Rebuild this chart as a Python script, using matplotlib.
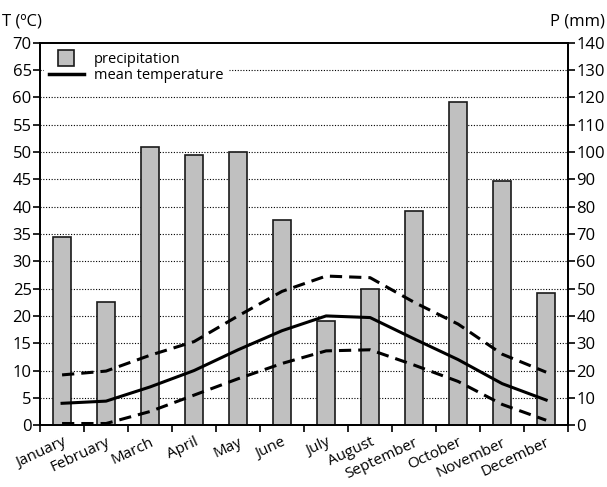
import numpy as np
import matplotlib.pyplot as plt
from matplotlib.lines import Line2D

plt.rcParams['font.family'] = ['Open Sans', 'DejaVu Sans']

months = ['January', 'February', 'March', 'April', 'May', 'June', 'July',
          'August', 'September', 'October', 'November', 'December']
precip = [69, 45, 102, 99, 100, 75, 38, 50, 78.5, 118.5, 89.5, 48.5]
t_mean = [4.0, 4.4, 7.0, 10.0, 13.8, 17.3, 20.0, 19.7, 15.8, 12.0, 7.6, 4.6]
t_max = [9.2, 9.9, 12.8, 15.3, 20.0, 24.5, 27.3, 27.0, 22.5, 18.5, 13.0, 9.7]
t_min = [0.3, 0.3, 2.5, 5.5, 8.5, 11.3, 13.6, 13.8, 11.0, 8.0, 3.8, 0.9]

x = np.arange(len(months))

fig = plt.figure(figsize=(6.07, 4.87), dpi=100)
ax2 = fig.add_axes([0.066, 0.127, 0.870, 0.785])
ax = ax2.twinx()
# lines axis on the left, bars axis on the right
ax.yaxis.tick_left()
ax2.yaxis.tick_right()
ax.set_zorder(2)
ax.patch.set_visible(False)

# precipitation bars (right axis)
ax2.bar(x, precip, width=0.42, color='#c0c0c0', edgecolor='#1a1a1a',
        linewidth=1.2, zorder=3)
ax2.set_ylim(0, 140)
ax2.set_yticks(np.arange(0, 141, 10))
for v in np.arange(10, 140, 10):
    ax2.axhline(v, color='black', linestyle=(0, (1, 1.5)), linewidth=0.8, zorder=1)

# temperature lines (left axis)
ax.plot(x, t_mean, color='black', linewidth=2.2)
ax.plot(x, t_max, color='black', linewidth=2.2, dashes=(4, 2.3))
ax.plot(x, t_min, color='black', linewidth=2.2, dashes=(4, 2.3))
ax.set_ylim(0, 70)
ax.set_yticks(np.arange(0, 71, 5))

ax2.set_xlim(-0.5, 11.5)
ax2.set_xticks(np.arange(-0.5, 12, 1))
ax2.set_xticklabels([])
ax2.set_xticks(x, minor=True)
ax2.set_xticklabels(months, minor=True, rotation=25, ha='right',
                    rotation_mode='anchor', fontsize=11)
ax2.tick_params(axis='x', which='minor', length=0, pad=7)
ax2.tick_params(axis='x', which='major', length=5, width=1.2, direction='out')

for a in (ax, ax2):
    a.tick_params(axis='y', labelsize=12, length=5, width=1.2, pad=1)
    for s in a.spines.values():
        s.set_linewidth(1.3)

fig.text(0.003, 0.94, 'T (ºC)', fontsize=12, ha='left', va='bottom')
fig.text(0.997, 0.94, 'P (mm)', fontsize=12, ha='right', va='bottom')

handles = [Line2D([0], [0], linestyle='none', marker='s', markersize=12,
                  markerfacecolor='#c0c0c0', markeredgecolor='#1a1a1a',
                  markeredgewidth=1.2),
           Line2D([0], [0], color='black', linewidth=2.5)]
leg = ax.legend(handles, ['precipitation', 'mean temperature'], loc='upper left',
                frameon=True, fontsize=10.5, borderaxespad=0.3, handlelength=2.4,
                handletextpad=0.7, labelspacing=0.1, borderpad=0.3,
                framealpha=1, edgecolor='white', fancybox=False)

fig.savefig('out.png', dpi=100)
